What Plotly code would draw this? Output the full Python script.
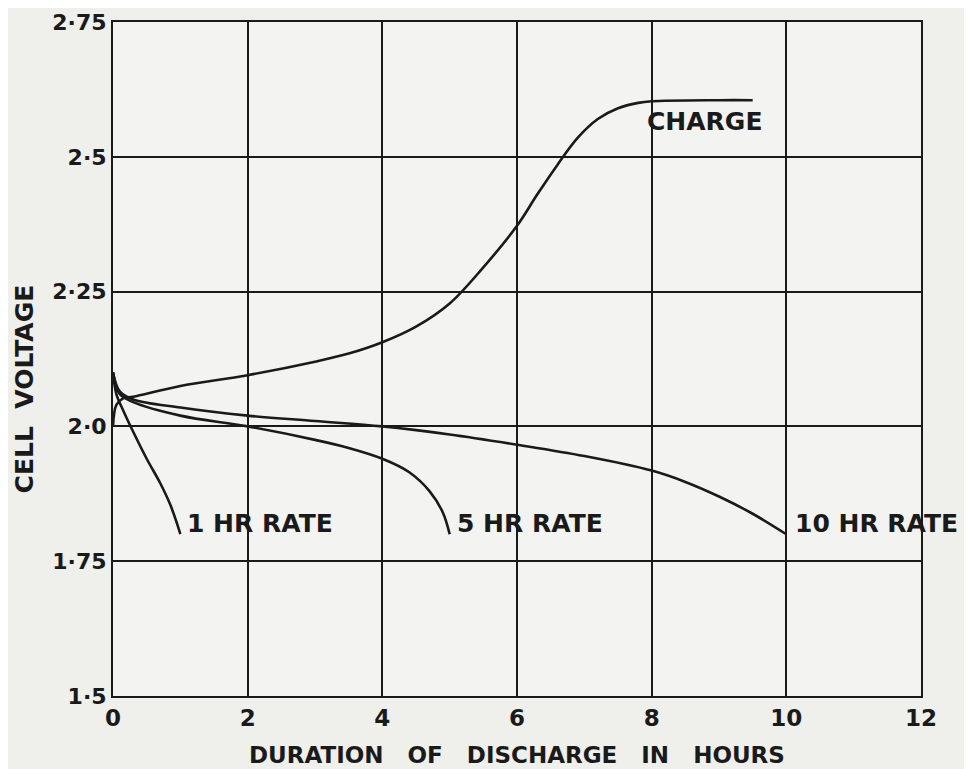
import plotly.graph_objects as go

# ---- data ----
charge_x = [0.0, 0.05, 0.15, 0.3, 1.0, 2.0, 3.0, 3.5, 4.0, 4.5, 5.0, 5.5, 6.0, 6.3, 6.6, 6.9, 7.2, 7.5, 7.8, 8.0, 9.0, 9.5]
charge_y = [2.00, 2.04, 2.052, 2.055, 2.075, 2.095, 2.12, 2.135, 2.156, 2.185, 2.228, 2.295, 2.372, 2.43, 2.485, 2.535, 2.57, 2.59, 2.60, 2.603, 2.605, 2.605]

hr1_x = [0.0, 0.05, 0.15, 0.3, 0.5, 0.7, 0.85, 0.95, 1.0]
hr1_y = [2.10, 2.06, 2.03, 1.99, 1.94, 1.895, 1.855, 1.82, 1.80]

hr5_x = [0.0, 0.1, 0.3, 1.0, 2.0, 3.0, 3.5, 4.0, 4.4, 4.7, 4.9, 5.0]
hr5_y = [2.10, 2.06, 2.045, 2.02, 2.0, 1.975, 1.96, 1.94, 1.915, 1.88, 1.84, 1.80]

hr10_x = [0.0, 0.1, 0.3, 1.0, 2.0, 3.0, 4.0, 5.0, 6.0, 7.0, 8.0, 8.5, 9.0, 9.5, 10.0]
hr10_y = [2.10, 2.065, 2.05, 2.035, 2.02, 2.01, 2.0, 1.985, 1.966, 1.945, 1.918, 1.897, 1.87, 1.838, 1.80]

x_ticks = [0, 2, 4, 6, 8, 10, 12]
y_ticks = [1.5, 1.75, 2.0, 2.25, 2.5, 2.75]
y_tick_labels = ["1·5", "1·75", "2·0", "2·25", "2·5", "2·75"]

labels = [("CHARGE", 7.9, 2.565), ("1 HR RATE", 1.07, 1.82), ("5 HR RATE", 5.08, 1.82), ("10 HR RATE", 10.1, 1.82)]
x_title = "DURATION   OF   DISCHARGE   IN   HOURS"
y_title = "CELL  VOLTAGE"

FONT = "DejaVu Sans"
INK = "#1a1a1a"

fig = go.Figure()
for xs, ys in [(charge_x, charge_y), (hr1_x, hr1_y), (hr5_x, hr5_y), (hr10_x, hr10_y)]:
    fig.add_trace(go.Scatter(x=xs, y=ys, mode="lines",
                             line=dict(color=INK, width=2.6, shape="spline", smoothing=1.0),
                             hoverinfo="skip", showlegend=False))

for text, x, y in labels:
    fig.add_annotation(x=x, y=y, text=text, showarrow=False, xanchor="left", yanchor="middle",
                       font=dict(family=FONT, size=25, color=INK, weight="bold"))

fig.add_annotation(x=0.5, y=-0.088, xref="paper", yref="paper", text=x_title, showarrow=False,
                   xanchor="center", yanchor="middle",
                   font=dict(family=FONT, size=23, color=INK, weight="bold"))
fig.add_annotation(x=-0.11, y=0.455, xref="paper", yref="paper", text=y_title, showarrow=False,
                   textangle=-90, xanchor="center", yanchor="middle",
                   font=dict(family=FONT, size=25, color=INK, weight="bold"))

fig.update_xaxes(range=[0, 12], tickvals=x_ticks, showgrid=True, gridcolor=INK, gridwidth=2,
                 showline=True, linecolor=INK, linewidth=2, mirror=True, zeroline=False,
                 automargin=False, ticklabeloverflow="allow",
                 tickfont=dict(family=FONT, size=23, color=INK, weight="bold"))
fig.update_yaxes(range=[1.5, 2.75], tickvals=y_ticks, ticktext=y_tick_labels, showgrid=True,
                 gridcolor=INK, gridwidth=2, showline=True, linecolor=INK, linewidth=2, mirror=True,
                 zeroline=False, automargin=False, ticklabeloverflow="allow",
                 tickfont=dict(family=FONT, size=22, color=INK, weight="bold"))

fig.update_layout(width=972, height=769, margin=dict(l=105, r=59, t=14, b=81),
                  paper_bgcolor="#efefec", plot_bgcolor="#f3f3f1")

fig.write_html("out.html")
